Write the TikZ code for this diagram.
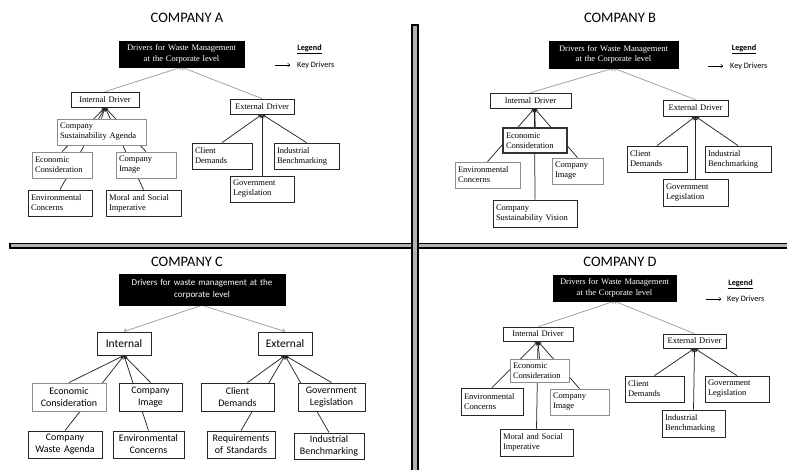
\documentclass[tikz,border=0pt]{standalone}
\usepackage{fontspec}
\setmainfont{Liberation Serif}
\newfontfamily\calibfont{Carlito}
\usetikzlibrary{arrows.meta,calc}
\pgfdeclarelayer{bg}
\pgfsetlayers{bg,main}
\tikzset{
 bx/.style={draw=black!85, line width=0.75pt, fill=white, inner xsep=3pt, inner ysep=0pt, align=left, font=\fontsize{8.5}{10}\selectfont},
 gbx/.style={bx, draw=black!45},
 cbx/.style={bx, inner xsep=2pt, align=center, line width=0.9pt, font=\calibfont\fontsize{10}{12}\selectfont},
 topbx/.style={fill=black, draw=black, text=white, align=center, inner xsep=0pt, inner ysep=0pt, font=\fontsize{8.5}{10.5}\selectfont},
 title/.style={font=\calibfont\fontsize{14.5}{17}\selectfont, inner sep=0pt},
 key/.style={-{Stealth[length=4pt,width=3.5pt]}, draw=black!85, line width=0.75pt},
 soft/.style={-{To[length=3pt,width=5pt]}, draw=black!40, line width=0.7pt},
 legtxt/.style={font=\calibfont\fontsize{8.2}{10}\selectfont, inner sep=0pt},
 legarrow/.style={-{To[length=2.5pt,width=4pt]}, draw=black, line width=0.5pt},
 divider/.style={draw=black, line width=1.8pt, fill=black!30},
}
\begin{document}
\begin{tikzpicture}[x=1pt,y=-1pt]
\useasboundingbox (0,0) rectangle (787,470);
\begin{pgfonlayer}{bg}
\fill[white] (0,0) rectangle (787,470);
\end{pgfonlayer}

% dividers
\draw[divider] (10,243.6) rectangle (792,248.4);
\draw[divider] (412.3,25) rectangle (417.7,476);

% ---------------- Company A ----------------
\node[title] (a-title) at (187,18) {COMPANY A};
\node[topbx, text width=125pt, minimum height=26pt] (a-top) at (181.5,54) {Drivers for Waste Management\\at the Corporate level};
\node[legtxt, font=\calibfont\bfseries\fontsize{8.2}{10}\selectfont] (a-leg) at (309.5,49) {\underline{Legend}};
\coordinate (a-la1) at (275,65);
\coordinate (a-la2) at (290,65);
\node[legtxt, anchor=west] (a-kd) at (297,65) {Key Drivers};
\node[bx, align=center, text width=62pt, minimum height=15pt] (a-int) at (105,99.5) {Internal Driver};
\node[bx, align=center, text width=58pt, minimum height=15pt] (a-ext) at (262,106.5) {External Driver};
\node[gbx, text width=83pt, minimum height=26pt] (a-csa) at (101.5,132) {Company\\Sustainability Agenda};
\node[gbx, text width=54pt, minimum height=26pt] (a-ec) at (62,165) {Economic\\Consideration};
\node[gbx, text width=54pt, minimum height=26pt] (a-ci) at (146,165) {Company\\Image};
\node[bx, text width=58pt, minimum height=26pt] (a-env) at (60,203) {Environmental\\Concerns};
\node[bx, text width=69pt, minimum height=26pt] (a-msi) at (143.5,203) {Moral and Social\\Imperative};
\node[bx, text width=54pt, minimum height=26pt] (a-cd) at (222,156) {Client\\Demands};
\node[bx, text width=59pt, minimum height=26pt] (a-ib) at (306.5,156) {Industrial\\Benchmarking};
\node[bx, text width=58pt, minimum height=26pt] (a-gl) at (262,189) {Government\\Legislation};

% ---------------- Company B ----------------
\node[title] (b-title) at (620,18) {COMPANY B};
\node[topbx, text width=129pt, minimum height=27pt] (b-top) at (613.5,54.5) {Drivers for Waste Management\\at the Corporate level};
\node[legtxt, font=\calibfont\bfseries\fontsize{8.2}{10}\selectfont] (b-leg) at (744,49) {\underline{Legend}};
\coordinate (b-la1) at (708,66);
\coordinate (b-la2) at (723,66);
\node[legtxt, anchor=west] (b-kd) at (730,66) {Key Drivers};
\node[bx, align=center, text width=75pt, minimum height=15pt] (b-int) at (530.5,100.5) {Internal Driver};
\node[bx, align=center, text width=59pt, minimum height=16pt] (b-ext) at (695.5,108) {External Driver};
\node[bx, line width=1.6pt, draw=black!80, text width=58pt, minimum height=25pt] (b-ec) at (535,140.5) {Economic\\Consideration};
\node[gbx, text width=59pt, minimum height=26pt] (b-env) at (487.5,175) {Environmental\\Concerns};
\node[gbx, text width=45pt, minimum height=26pt] (b-ci) at (577.5,171) {Company\\Image};
\node[bx, text width=78pt, minimum height=27pt] (b-csv) at (535,213.5) {Company\\Sustainability Vision};
\node[bx, text width=54pt, minimum height=26pt] (b-cd) at (657,159) {Client\\Demands};
\node[bx, text width=60pt, minimum height=26pt] (b-ib) at (738,159) {Industrial\\Benchmarking};
\node[bx, text width=59pt, minimum height=27pt] (b-gl) at (695.5,192.5) {Government\\Legislation};

% ---------------- Company C ----------------
\node[title] (c-title) at (187,262) {COMPANY C};
\node[topbx, text width=166pt, minimum height=31pt, font=\calibfont\fontsize{9}{12}\selectfont] (c-top) at (202,289.5) {Drivers for waste management at the\\corporate level};
\node[cbx, text width=50pt, minimum height=23pt, font=\calibfont\fontsize{11.5}{13}\selectfont] (c-int) at (124,343.5) {Internal};
\node[cbx, text width=50pt, minimum height=23pt, font=\calibfont\fontsize{11.5}{13}\selectfont] (c-ext) at (285,343.5) {External};
\node[cbx, draw=black!45, text width=70pt, minimum height=28pt] (c-ec) at (69,397) {Economic\\Consideration};
\node[cbx, text width=59pt, minimum height=28pt] (c-ci) at (150.5,397) {Company\\Image};
\node[cbx, text width=69pt, minimum height=28pt] (c-cd) at (237.5,397) {Client\\Demands};
\node[cbx, text width=63pt, minimum height=28pt] (c-gl) at (331.5,397) {Government\\Legislation};
\node[cbx, text width=70pt, minimum height=27pt] (c-cwa) at (65,444.5) {Company\\Waste Agenda};
\node[cbx, text width=67pt, minimum height=27pt] (c-env) at (148.5,444.5) {Environmental\\Concerns};
\node[cbx, text width=64pt, minimum height=27pt] (c-ros) at (241,444.5) {Requirements\\of Standards};
\node[cbx, text width=66pt, minimum height=26pt] (c-ib) at (329,446) {Industrial\\Benchmarking};

% ---------------- Company D ----------------
\node[title] (d-title) at (620,262) {COMPANY D};
\node[topbx, text width=123pt, minimum height=26pt] (d-top) at (614.5,288) {Drivers for Waste Management\\at the Corporate level};
\node[legtxt, font=\calibfont\bfseries\fontsize{8.2}{10}\selectfont] (d-leg) at (740.5,284) {\underline{Legend}};
\coordinate (d-la1) at (706,299);
\coordinate (d-la2) at (721,299);
\node[legtxt, anchor=west] (d-kd) at (727,299) {Key Drivers};
\node[bx, align=center, text width=64pt, minimum height=14pt] (d-int) at (538,334) {Internal Driver};
\node[bx, align=center, text width=57pt, minimum height=14pt] (d-ext) at (694.5,341) {External Driver};
\node[gbx, text width=53pt, minimum height=23pt] (d-ec) at (539.5,370.5) {Economic\\Consideration};
\node[bx, text width=56pt, minimum height=27pt] (d-env) at (492,401.5) {Environmental\\Concerns};
\node[gbx, text width=53pt, minimum height=26pt] (d-ci) at (579.5,402) {Company\\Image};
\node[bx, text width=67pt, minimum height=27pt] (d-msi) at (536.5,442.5) {Moral and Social\\Imperative};
\node[bx, text width=53pt, minimum height=26pt] (d-cd) at (654.5,389) {Client\\Demands};
\node[bx, text width=58pt, minimum height=26pt] (d-gl) at (737,389) {Government\\Legislation};
\node[bx, text width=57pt, minimum height=27pt] (d-ib) at (693.5,423.5) {Industrial\\Benchmarking};

% ---------------- connectors ----------------
\begin{pgfonlayer}{bg}
 % legends
 \draw[legarrow] (a-la1) -- (a-la2);
 \draw[legarrow] (b-la1) -- (b-la2);
 \draw[legarrow] (d-la1) -- (d-la2);
 % A
 \draw[soft] (a-int.north) -- (a-top.south);
 \draw[soft] (a-ext.north) -- (a-top.south);
 \foreach \n in {a-csa,a-ec,a-ci,a-env,a-msi} \draw[key] (\n.north) -- (a-int.south);
 \foreach \n in {a-cd,a-gl,a-ib} \draw[key] (\n.north) -- (a-ext.south);
 % B
 \draw[soft] (b-int.north) -- (b-top.south);
 \draw[soft] (b-ext.north) -- (b-top.south);
 \coordinate (b-in) at ($(b-int.south)+(4,0)$);
 \draw[key, line width=1.3pt] (b-ec.north) -- (b-in);
 \foreach \n in {b-env,b-ci,b-csv} \draw[key] (\n.north) -- (b-in);
 \foreach \n in {b-cd,b-gl,b-ib} \draw[key] (\n.north) -- (b-ext.south);
 % C
 \draw[soft] (c-top.south) -- (c-int.north);
 \draw[soft] (c-top.south) -- (c-ext.north);
 \foreach \n in {c-ec,c-ci,c-cwa,c-env} \draw[key] (\n.north) -- (c-int.south);
 \draw[key] ($(c-cd.north)+(10,0)$) -- (c-ext.south);
 \foreach \n in {c-gl,c-ros,c-ib} \draw[key] (\n.north) -- (c-ext.south);
 % D
 \draw[soft] (d-int.north) -- (d-top.south);
 \draw[soft] (d-ext.north) -- (d-top.south);
 \foreach \n in {d-ec,d-env,d-ci,d-msi} \draw[key] (\n.north) -- (d-int.south);
 \foreach \n in {d-cd,d-ib,d-gl} \draw[key] (\n.north) -- (d-ext.south);
\end{pgfonlayer}
\end{tikzpicture}
\end{document}
